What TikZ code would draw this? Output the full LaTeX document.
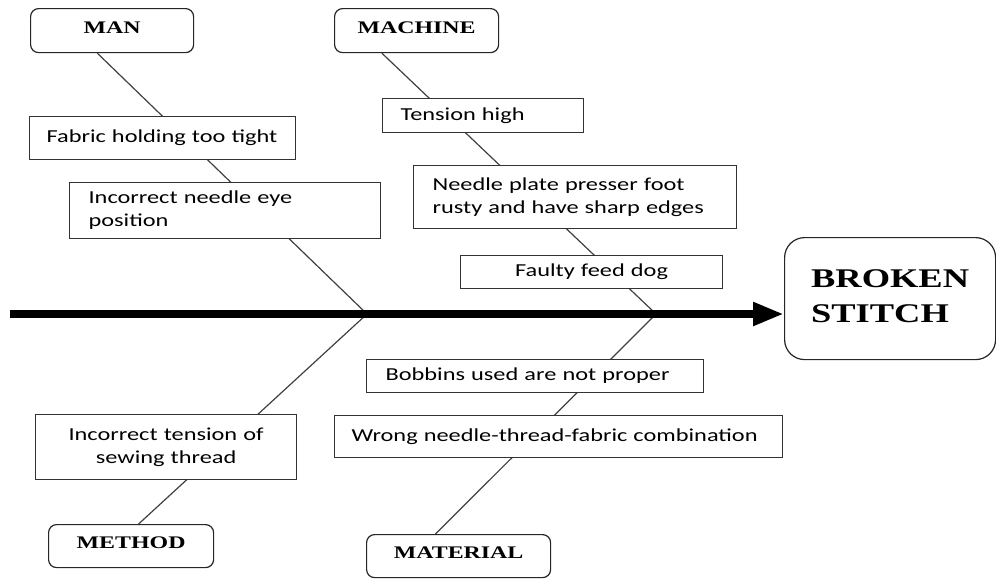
\documentclass[tikz,border=0pt]{standalone}
\usepackage{fontspec}
\setmainfont{Carlito}[FakeStretch=1.33]
\newfontfamily\headfont{Liberation Serif}[FakeStretch=1.35]
\usetikzlibrary{arrows.meta,calc,backgrounds}
\tikzset{
  cause/.style={draw=black!80,fill=white,line width=1.2pt,anchor=north west,
    inner ysep=0pt,align=left,font=\fontsize{18.3}{23}\selectfont},
  head/.style={draw=black!85,fill=white,line width=1.2pt,rounded corners=8pt,
    anchor=north west,text depth=6pt,font=\headfont\bfseries\fontsize{17.7}{20}\selectfont},
  bone/.style={draw=black!75,line width=1.2pt},
  spine/.style={line width=8pt}
}
\begin{document}
\begin{tikzpicture}[x=1pt,y=-1pt,>={Triangle[length=31pt,width=22pt]}]
  \useasboundingbox (0,0) rectangle (996,579);
  % heads of the bones
  \node[head,minimum width=163pt,minimum height=44pt] (man) at (30,8) {MAN};
  \node[head,minimum width=164pt,minimum height=44pt] (machine) at (334,8) {MACHINE};
  \node[head,minimum width=165pt,minimum height=43pt] (method) at (48,524) {METHOD};
  \node[head,minimum width=184pt,minimum height=43pt] (material) at (366,534) {MATERIAL};
  \node[head,rounded corners=20pt,minimum width=211pt,minimum height=122pt,align=left,
    font=\headfont\bfseries\fontsize{27}{35}\selectfont] (effect) at (784,237) {BROKEN\\STITCH};
  % causes
  \node[cause,inner xsep=17pt,text width=232pt,minimum height=43pt] (fabric) at (29,116)
    {Fabric holding too tight};
  \node[cause,inner xsep=19pt,text width=273pt,minimum height=56pt] (needleeye) at (69,182)
    {Incorrect needle eye\\position};
  \node[cause,inner xsep=10pt,text width=241pt,minimum height=65pt,align=center] (sewing) at (35,414)
    {Incorrect tension of\\sewing thread};
  \node[cause,inner xsep=18pt,text width=165pt,minimum height=34pt] (tensionhigh) at (382,98)
    {Tension high};
  \node[cause,inner xsep=19pt,text width=285pt,minimum height=63pt] (needleplate) at (413,165)
    {Needle plate presser foot\\rusty and have sharp edges};
  \node[cause,inner xsep=10pt,text width=242pt,minimum height=33pt,align=center] (feeddog) at (460,255)
    {Faulty feed dog};
  \node[cause,inner xsep=19pt,text width=299pt,minimum height=33pt] (bobbins) at (366,359)
    {Bobbins used are not proper};
  \node[cause,inner xsep=17pt,text width=414pt,minimum height=42pt] (wrongcombo) at (334,415)
    {Wrong needle-thread-fabric combination};
  % spine
  \coordinate (tail) at (10,314);
  \coordinate (jMan) at (367,314);
  \coordinate (jMat) at (656,314);
  \draw[spine,->] (tail) -- (tail -| effect.west);
  \begin{scope}[on background layer]
    \draw[bone] (jMan) -- ($(man.south west)!0.41!(man.south east)$);
    \draw[bone] (jMan) -- ($(method.north west)!0.545!(method.north east)$);
    \draw[bone] (jMat) -- ($(machine.south west)!0.29!(machine.south east)$);
    \draw[bone] (jMat) -- ($(material.north west)!0.375!(material.north east)$);
  \end{scope}
\end{tikzpicture}
\end{document}
